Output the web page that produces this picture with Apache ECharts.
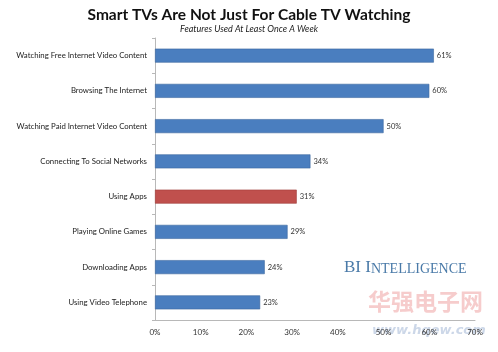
<!DOCTYPE html>
<html>
<head>
<meta charset="utf-8">
<script src="https://cdn.jsdelivr.net/npm/echarts@6/dist/echarts.min.js"></script>
<style>
html,body{margin:0;padding:0;background:#fff;}
#myChart{width:498px;height:352px;}
</style>
</head>
<body>
<div id="myChart"></div>
<script>
var categories = ['Watching Free Internet Video Content', 'Browsing The Internet', 'Watching Paid Internet Video Content',
    'Connecting To Social Networks', 'Using Apps', 'Playing Online Games', 'Downloading Apps', 'Using Video Telephone'];
var values = [61, 60, 50, 34, 31, 29, 24, 23];
var highlight = 'Using Apps';
var xTicks = [0, 10, 20, 30, 40, 50, 60, 70];

var myChart = echarts.init(document.getElementById('myChart'));
var font = 'Lato';

var barData = [];
for (var i = 0; i < values.length; i++) {
    var red = categories[i] == highlight;
    barData.push({
        value: values[i],
        itemStyle: {color: red ? '#c0504d' : '#4a7ebf', borderColor: red ? '#9e3b38' : '#3a679e', borderWidth: 0.6}
    });
}

myChart.setOption({
    backgroundColor: '#fff',
    animation: false,
    title: {
        text: 'Smart TVs Are Not Just For Cable TV Watching',
        subtext: 'Features Used At Least Once A Week',
        left: 'center', top: 2, itemGap: 2,
        textStyle: {fontFamily: font, fontSize: 15.5, fontWeight: 'bold', color: '#111'},
        subtextStyle: {fontFamily: font, fontSize: 9, fontStyle: 'italic', color: '#222'}
    },
    grid: {left: 155, right: 23, top: 38, bottom: 32},
    xAxis: {
        type: 'value', min: 0, max: 70, interval: 10,
        axisLine: {show: true, lineStyle: {color: '#b8b8b8'}},
        axisTick: {show: false},
        splitLine: {show: false},
        axisLabel: {fontFamily: font, fontSize: 8, color: '#333', margin: 8, formatter: function (v) {
            return xTicks.indexOf(v) >= 0 ? v + '%' : '';
        }}
    },
    yAxis: {
        type: 'category', data: categories, inverse: true,
        axisLine: {show: true, lineStyle: {color: '#b8b8b8'}},
        axisTick: {show: true, length: 3, lineStyle: {color: '#b8b8b8'}},
        axisLabel: {fontFamily: font, fontSize: 7.8, color: '#222', margin: 8}
    },
    series: [{
        type: 'bar', data: barData, barWidth: 14,
        label: {show: true, position: 'right', distance: 3, fontFamily: font, fontSize: 7.5, color: '#333', formatter: '{c}%'}
    }],
    graphic: [
        {type: 'text', left: 344, top: 259, style: {
            text: '{b|BI I}{s|NTELLIGENCE}',
            rich: {
                b: {fontFamily: 'Liberation Serif', fontSize: 17, lineHeight: 18, verticalAlign: 'bottom', fill: '#4a7aa8', color: '#4a7aa8'},
                s: {fontFamily: 'Liberation Serif', fontSize: 14, lineHeight: 15, verticalAlign: 'bottom', fill: '#4a7aa8', color: '#4a7aa8'}
            }
        }},
        {type: 'text', left: 368, top: 290, style: {text: '华强电子网', fontFamily: 'Noto Sans CJK SC', fontSize: 23, fontWeight: 'bold', fill: 'rgba(230,110,110,0.35)'}},
        {type: 'text', left: 372, top: 324, style: {text: 'www.hqew.com', fontFamily: 'DejaVu Sans', fontSize: 13, fontWeight: 'bold', fontStyle: 'italic', fill: 'rgba(110,140,190,0.35)'}}
    ]
});
</script>
</body>
</html>
